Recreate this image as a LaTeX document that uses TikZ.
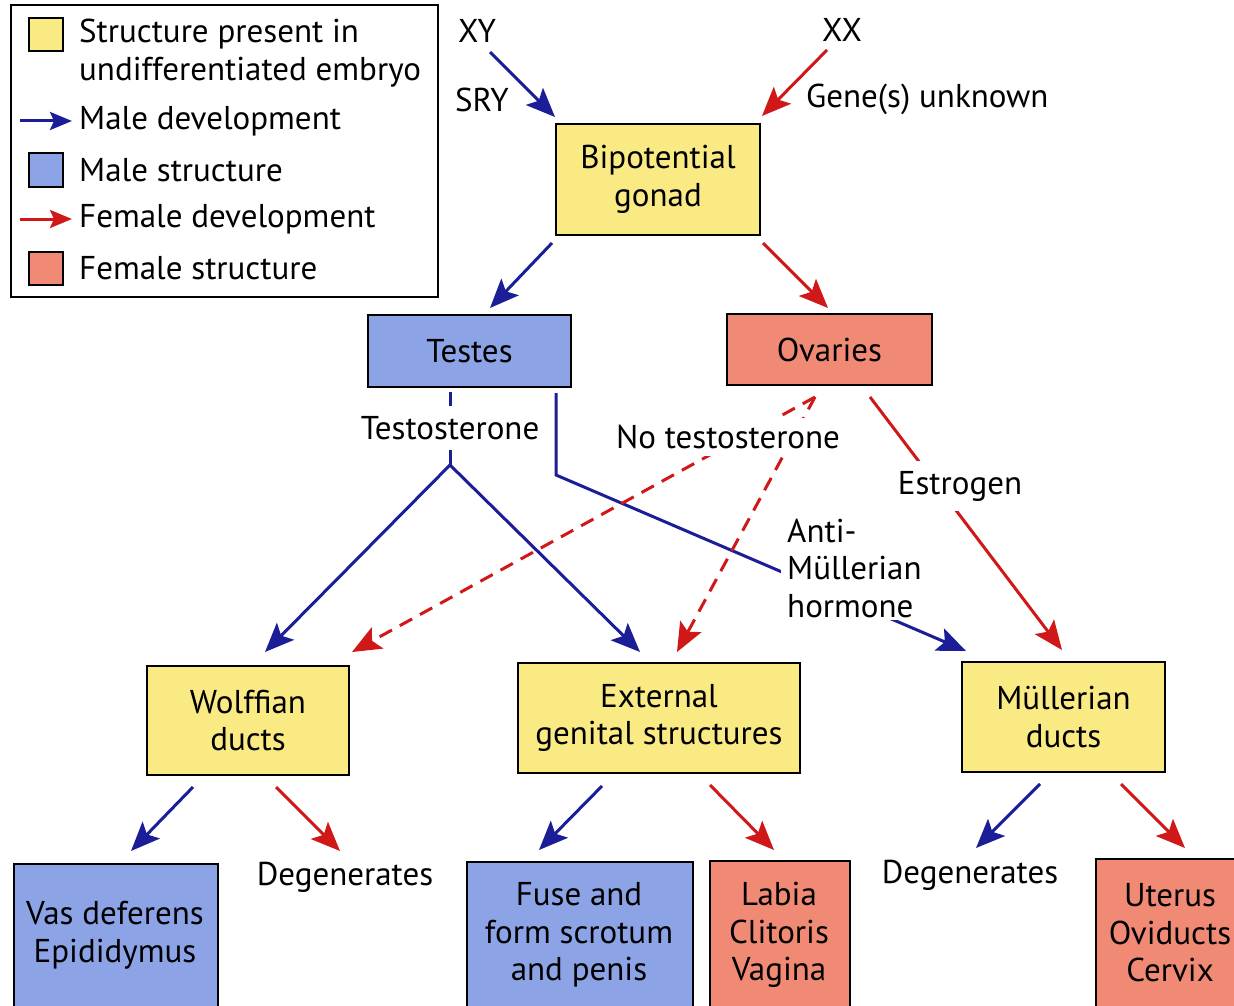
\documentclass[tikz,border=0pt]{standalone}
\usepackage{fontspec}
\setmainfont{PT Sans}
\usetikzlibrary{arrows.meta}
\definecolor{ylw}{HTML}{F9EA84}
\definecolor{mblue}{HTML}{8CA3E6}
\definecolor{fsal}{HTML}{F08A74}
\definecolor{aBlue}{HTML}{1B1E96}
\definecolor{aRed}{HTML}{D01818}
\tikzset{
  txt/.style={font=\fontsize{33}{37.5}\selectfont, inner sep=0pt, align=center},
  bx/.style={draw=black, line width=2pt, inner sep=0pt, font=\fontsize{33}{37.5}\selectfont, align=center},
  ybox/.style={bx, fill=ylw},
  bbox/.style={bx, fill=mblue},
  rbox/.style={bx, fill=fsal},
  tip/.style={-{Stealth[length=29pt,width=24pt,inset=6pt]}},
  smalltip/.style={-{Stealth[length=22pt,width=18pt,inset=4pt]}},
  mline/.style={draw=aBlue, line width=3pt},
  fline/.style={draw=aRed, line width=3pt},
  marrow/.style={mline, tip},
  farrow/.style={fline, tip},
  fdash/.style={fline, tip, dash pattern=on 14pt off 9pt},
  lab/.style={txt, fill=white, inner xsep=4pt, inner ysep=10pt}
}
\begin{document}
\begin{tikzpicture}[x=1pt,y=-1pt]
\useasboundingbox (0,0) rectangle (1234,1006);
\clip (0,0) rectangle (1234,1006);
\fill[white] (0,0) rectangle (1234,1006);

% legend
\node[draw=black, line width=2pt, minimum width=427, minimum height=291, inner sep=0pt] (legend) at (224.5,151) {};
\node[ybox, minimum width=34, minimum height=33] (lgY) at (46,35) {};
\node[txt, anchor=west, align=left] (lgYt) at (79,53) {Structure present in\\undifferentiated embryo};
\coordinate (lgMa) at (20,121); \coordinate (lgMb) at (72,121);
\draw[mline, smalltip] (lgMa) -- (lgMb);
\node[txt, anchor=west] (lgMt) at (79,121) {Male development};
\node[bbox, minimum width=34, minimum height=33] (lgB) at (46,170) {};
\node[txt, anchor=west] (lgBt) at (79,170) {Male structure};
\coordinate (lgFa) at (20,219); \coordinate (lgFb) at (72,219);
\draw[fline, smalltip] (lgFa) -- (lgFb);
\node[txt, anchor=west] (lgFt) at (79,219) {Female development};
\node[rbox, minimum width=34, minimum height=33] (lgR) at (46,268) {};
\node[txt, anchor=west] (lgRt) at (79,268) {Female structure};

% boxes
\node[ybox, minimum width=204, minimum height=111] (gonad) at (658,179.5) {Bipotential\\gonad};
\node[bbox, minimum width=203, minimum height=72] (testes) at (469.5,351) {Testes};
\node[rbox, minimum width=205, minimum height=71] (ovaries) at (829.5,349.5) {Ovaries};
\node[ybox, minimum width=202, minimum height=109] (wolff) at (248,720.5) {Wolffian\\ducts};
\node[ybox, minimum width=282, minimum height=110] (ext) at (659,718) {External\\genital structures};
\node[ybox, minimum width=203, minimum height=110] (mull) at (1063.5,717) {Müllerian\\ducts};

\node[bbox, minimum width=204, minimum height=180, anchor=north west] (vas) at (13,863) {};
\node[txt] (vast) at (115,935) {Vas deferens\\Epididymus};
\node[bbox, minimum width=226, minimum height=180, anchor=north west] (fuse) at (466,861) {};
\node[txt] (fuset) at (579,935) {Fuse and\\form scrotum\\and penis};
\node[rbox, minimum width=140, minimum height=180, anchor=north west] (labia) at (709,860) {};
\node[txt] (labiat) at (779,935) {Labia\\Clitoris\\Vagina};
\node[rbox, minimum width=150, minimum height=180, anchor=north west] (uter) at (1095,858) {};
\node[txt] (utert) at (1170,933) {Uterus\\Oviducts\\Cervix};

% top labels and arrows
\node[txt] (xy) at (477,31) {XY};
\node[txt] (sry) at (482,100) {SRY};
\node[txt] (xx) at (842,30) {XX};
\node[txt, anchor=west] (gene) at (806,99) {Gene(s) unknown};
\coordinate (xyS) at (490,52); \coordinate (xyE) at (555,117);
\draw[marrow] (xyS) -- (xyE);
\coordinate (xxS) at (827,50); \coordinate (xxE) at (762,116);
\draw[farrow] (xxS) -- (xxE);

\coordinate (gtS) at (552,243); \coordinate (gtE) at (490,308);
\draw[marrow] (gtS) -- (gtE);
\coordinate (goS) at (763,243); \coordinate (goE) at (828,308);
\draw[farrow] (goS) -- (goE);

% testosterone
\coordinate (teS) at (450,392); \coordinate (teF) at (450,465);
\coordinate (woE) at (265,652); \coordinate (exE) at (640,652);
\draw[mline] (teS) -- (teF);
\draw[marrow] (teF) -- (woE);
\draw[marrow] (teF) -- (exE);
\node[lab] (testo) at (450,428) {Testosterone};

% AMH
\coordinate (amS) at (556,393); \coordinate (amK) at (556,475); \coordinate (amE) at (966,651);
\draw[mline, tip, line join=miter] (amS) -- (amK) -- (amE);
\node[lab, anchor=west, align=left, inner xsep=6pt, inner ysep=3pt] (amh) at (781,568) {Anti-\\Müllerian\\hormone};

% no testosterone
\coordinate (ntS) at (815,397); \coordinate (ntW) at (352,652); \coordinate (ntE) at (677,652);
\draw[fdash] (ntS) -- (ntW);
\draw[fdash] (ntS) -- (ntE);
\node[lab, inner ysep=7pt] (notesto) at (728,437) {No testosterone};

% estrogen
\coordinate (esS) at (870,397); \coordinate (esE) at (1062,650);
\draw[farrow] (esS) -- (esE);
\node[lab, inner xsep=2pt, inner ysep=10pt] (estro) at (960,486) {Estrogen};

% bottom arrows
\coordinate (w1S) at (193,787); \coordinate (w1E) at (131,851);
\draw[marrow] (w1S) -- (w1E);
\coordinate (w2S) at (276,787); \coordinate (w2E) at (340,851);
\draw[farrow] (w2S) -- (w2E);
\node[txt] (degL) at (345,877) {Degenerates};
\coordinate (e1S) at (602,786); \coordinate (e1E) at (539,850);
\draw[marrow] (e1S) -- (e1E);
\coordinate (e2S) at (710,785); \coordinate (e2E) at (774,850);
\draw[farrow] (e2S) -- (e2E);
\coordinate (m1S) at (1040,784); \coordinate (m1E) at (976,848);
\draw[marrow] (m1S) -- (m1E);
\coordinate (m2S) at (1121,784); \coordinate (m2E) at (1185,848);
\draw[farrow] (m2S) -- (m2E);
\node[txt] (degR) at (970,875) {Degenerates};
\end{tikzpicture}
\end{document}
